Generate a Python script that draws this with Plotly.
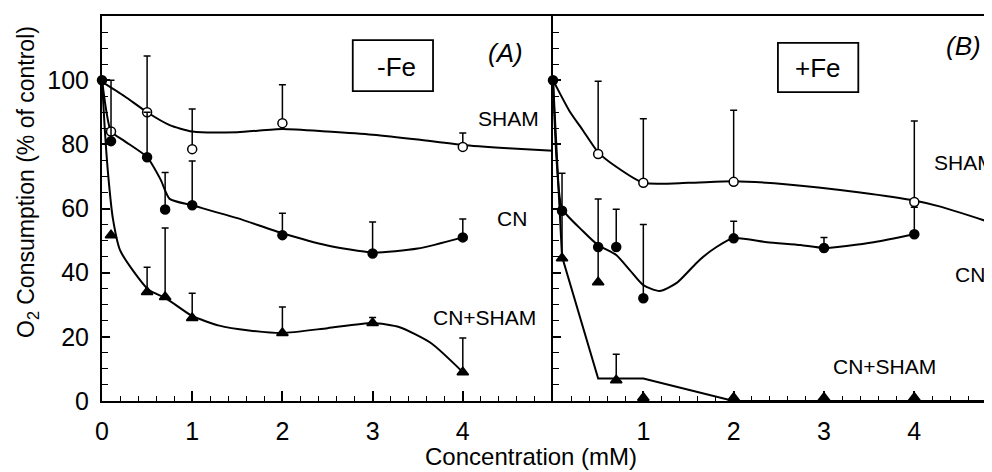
import plotly.graph_objects as go

# ---------------- data ----------------
# Panel A (-Fe): measured points (x = concentration mM, y = % of control, upper error)
a_sham_x = [0.1, 0.5, 1, 2, 4]
a_sham_y = [84, 90, 78.5, 86.6, 79.2]
a_sham_e = [0, 17.5, 12.5, 12, 4.3]

a_cn_x = [0, 0.1, 0.5, 0.7, 1, 2, 3, 4]
a_cn_y = [100, 81, 76, 59.7, 61, 51.7, 46, 51]
a_cn_e = [0, 19, 14, 11.5, 13.8, 6.8, 9.8, 5.7]

a_cs_x = [0.1, 0.5, 0.7, 1, 2, 3, 4]
a_cs_y = [51.7, 34, 32.4, 25.9, 21.2, 24.3, 9]
a_cs_e = [0, 7.7, 21.5, 7.7, 8.1, 1.7, 10.6]

# Panel A fitted curves
a_sham_fx = [0, 0.25, 0.5, 0.75, 1, 1.5, 2, 2.5, 3, 3.5, 4, 4.5, 5]
a_sham_fy = [99.5, 95, 90, 86, 84, 83.8, 84.8, 84, 83, 81.5, 79.8, 78.8, 78]
a_cn_fx = [0, 0.05, 0.1, 0.25, 0.5, 0.65, 0.75, 1, 1.5, 2, 2.5, 3, 3.5, 4]
a_cn_fy = [100, 90, 84, 81, 76, 69, 63, 61, 57, 52.3, 48.5, 46.3, 47.5, 51]
a_cs_fx = [0, 0.03, 0.07, 0.12, 0.2, 0.34, 0.52, 0.71, 1.0, 1.3, 1.63, 2.0, 2.5, 3.0, 3.3, 3.65, 4.0]
a_cs_fy = [100, 85, 70, 57, 47, 40.8, 34.6, 32, 26.5, 23.5, 22, 21.2, 22.7, 24.3, 23, 18, 9]

# Panel B (+Fe): measured points
b_sham_x = [0.5, 1, 2, 4]
b_sham_y = [77, 68, 68.3, 62]
b_sham_e = [22.7, 20, 22.3, 25.3]

b_cn_x = [0, 0.1, 0.5, 0.7, 1, 2, 3, 4]
b_cn_y = [100, 59.3, 48, 48, 32, 50.7, 47.7, 52]
b_cn_e = [0, 11.7, 15, 11.8, 23, 5.3, 3.3, 8.4]

b_cs_x = [0.1, 0.5, 0.7, 1, 2, 3, 4]
b_cs_y = [44.5, 37, 6.5, 1, 1, 1, 1]
b_cs_e = [15, 11, 8.1, 0, 0, 0, 0]

# Panel B fitted curves
b_sham_fx = [0, 0.18, 0.33, 0.5, 0.7, 1.0, 1.5, 2.0, 2.6, 3.4, 4.0, 4.3, 4.86]
b_sham_fy = [100, 90.5, 84.4, 77.5, 73, 68, 68, 68.5, 67.5, 65, 62.5, 60.5, 55.5]
b_cn_fx = [0, 0.04, 0.1, 0.33, 0.5, 0.7, 0.85, 1.0, 1.18, 1.37, 1.62, 1.81, 2.0, 2.37, 2.74, 3.0, 3.55, 4.0]
b_cn_fy = [100, 75, 60, 53, 48.6, 45.5, 40.8, 36.1, 34.3, 36.8, 43.9, 48, 50.8, 49.5, 48.6, 47.7, 49.5, 52]
b_cs_fx = [0, 0.1, 0.5, 1.0, 2.0, 4.86]
b_cs_fy = [100, 45, 7, 7, 0, 0]

# ticks
x_ticks_a = [0, 1, 2, 3, 4]
x_ticks_b = [1, 2, 3, 4]
y_ticks = [0, 20, 40, 60, 80, 100]

FONT = "Liberation Sans, Arial, Helvetica, sans-serif"
NARROW = "Liberation Sans Narrow, Arial Narrow, Liberation Sans, Arial, sans-serif"

fig = go.Figure()


def curve(xs, ys, xa, ya, shape="spline"):
    fig.add_trace(go.Scatter(
        x=xs, y=ys, mode="lines", xaxis=xa, yaxis=ya,
        line=dict(color="black", width=2, shape=shape, smoothing=0.6),
        hoverinfo="skip", showlegend=False, cliponaxis=True))


def points(xs, ys, es, xa, ya, symbol, fill):
    fig.add_trace(go.Scatter(
        x=xs, y=ys, mode="markers", xaxis=xa, yaxis=ya,
        marker=dict(symbol=symbol, size=9 if symbol != "triangle-up" else 10,
                    color=fill, line=dict(color="black", width=1.5)),
        error_y=dict(type="data", symmetric=False, array=es,
                     arrayminus=[0] * len(es), color="black",
                     thickness=1.5, width=3.5),
        showlegend=False, cliponaxis=False))


# Panel A
curve(a_sham_fx, a_sham_fy, "x", "y")
curve(a_cn_fx, a_cn_fy, "x", "y")
curve(a_cs_fx, a_cs_fy, "x", "y")
points(a_cs_x, a_cs_y, a_cs_e, "x", "y", "triangle-up", "black")
points(a_sham_x, a_sham_y, a_sham_e, "x", "y", "circle", "white")
points(a_cn_x, a_cn_y, a_cn_e, "x", "y", "circle", "black")

# Panel B
curve(b_sham_fx, b_sham_fy, "x2", "y2")
curve(b_cn_fx, b_cn_fy, "x2", "y2")
curve(b_cs_fx, b_cs_fy, "x2", "y2", shape="linear")
points(b_cs_x, b_cs_y, b_cs_e, "x2", "y2", "triangle-up", "black")
points(b_sham_x, b_sham_y, b_sham_e, "x2", "y2", "circle", "white")
points(b_cn_x, b_cn_y, b_cn_e, "x2", "y2", "circle", "black")

split = 451 / 890

common_x = dict(showline=True, linewidth=2, linecolor="black", mirror=True,
                ticks="inside", ticklen=10, tickwidth=1.5, tickcolor="black",
                showgrid=False, zeroline=False, ticklabelstandoff=7,
                tickfont=dict(family=FONT, size=25, color="black"),
                minor=dict(ticks="inside", dtick=0.2, tick0=0, ticklen=5,
                           tickwidth=1.2, tickcolor="black", showgrid=False))
common_y = dict(showline=True, linewidth=2, linecolor="black",
                ticks="inside", ticklen=8, tickwidth=1.5, tickcolor="black",
                showgrid=False, zeroline=False, range=[0, 120],
                tickvals=y_ticks,
                tickfont=dict(family=FONT, size=25, color="black"),
                minor=dict(ticks="inside", dtick=5, tick0=0, ticklen=6,
                           tickwidth=1.2, tickcolor="black", showgrid=False))

# the page places the figure 8px in from the top-left corner
fig.update_layout(
    width=984, height=464,
    margin=dict(l=94, r=0, t=8, b=71, autoexpand=False),
    paper_bgcolor="white", plot_bgcolor="white",
    xaxis=dict(domain=[0, split], range=[0, 5], tickvals=x_ticks_a, anchor="y",
               **common_x),
    xaxis2=dict(domain=[split, 1], range=[0, 4.86], tickvals=x_ticks_b, anchor="y2",
                **common_x),
    yaxis=dict(anchor="x", ticklabelstandoff=6, **common_y),
    yaxis2=dict(anchor="x2", showticklabels=False, **common_y),
)

# framed panel labels
fig.add_shape(type="rect", xref="x", yref="y", x0=2.78, x1=3.67, y0=96.6, y1=112.5,
              line=dict(color="black", width=1.8), fillcolor="rgba(0,0,0,0)")
fig.add_shape(type="rect", xref="x2", yref="y2", x0=2.49, x1=3.38, y0=96.3, y1=111.6,
              line=dict(color="black", width=1.8), fillcolor="rgba(0,0,0,0)")

anns = [
    dict(text="-Fe", x=3.26, y=104.1, xref="x", yref="y", size=26, family=FONT),
    dict(text="+Fe", x=2.93, y=103.8, xref="x2", yref="y2", size=26, family=FONT),
    dict(text="<i>(A)</i>", x=4.47, y=108.5, xref="x", yref="y", size=26, family=FONT),
    dict(text="<i>(B)</i>", x=4.54, y=110.7, xref="x2", yref="y2", size=26, family=FONT),
    dict(text="SHAM", x=4.51, y=88.2, xref="x", yref="y", size=21, family=NARROW),
    dict(text="CN", x=4.55, y=57, xref="x", yref="y", size=21, family=NARROW),
    dict(text="CN+SHAM", x=4.24, y=25.9, xref="x", yref="y", size=21, family=NARROW),
    dict(text="CN", x=4.62, y=39.3, xref="x2", yref="y2", size=21, family=NARROW),
    dict(text="CN+SHAM", x=3.67, y=10.6, xref="x2", yref="y2", size=21, family=NARROW),
]
for a in anns:
    fig.add_annotation(text=a["text"], x=a["x"], y=a["y"], xref=a["xref"], yref=a["yref"],
                       showarrow=False, xanchor="center", yanchor="middle",
                       font=dict(family=a["family"], size=a["size"], color="black"))

fig.add_annotation(text="SHAM", x=4.2, y=74.2, xref="x2", yref="y2", showarrow=False,
                   xanchor="left", yanchor="middle",
                   font=dict(family=NARROW, size=21, color="black"))

# axis titles
fig.add_annotation(text="Concentration (mM)", xref="paper", yref="paper",
                   x=(530.5 - 102) / 890, y=(401 - 456) / 385, showarrow=False,
                   xanchor="center", yanchor="middle",
                   font=dict(family=FONT, size=24, color="black"))
fig.add_annotation(text="O<sub>2</sub> Consumption (% of control)", xref="paper", yref="paper",
                   x=(27 - 102) / 890, y=(401 - 182) / 385, showarrow=False,
                   textangle=-90, xanchor="center", yanchor="middle",
                   font=dict(family=FONT, size=23, color="black"))

fig.write_html("out.html")
